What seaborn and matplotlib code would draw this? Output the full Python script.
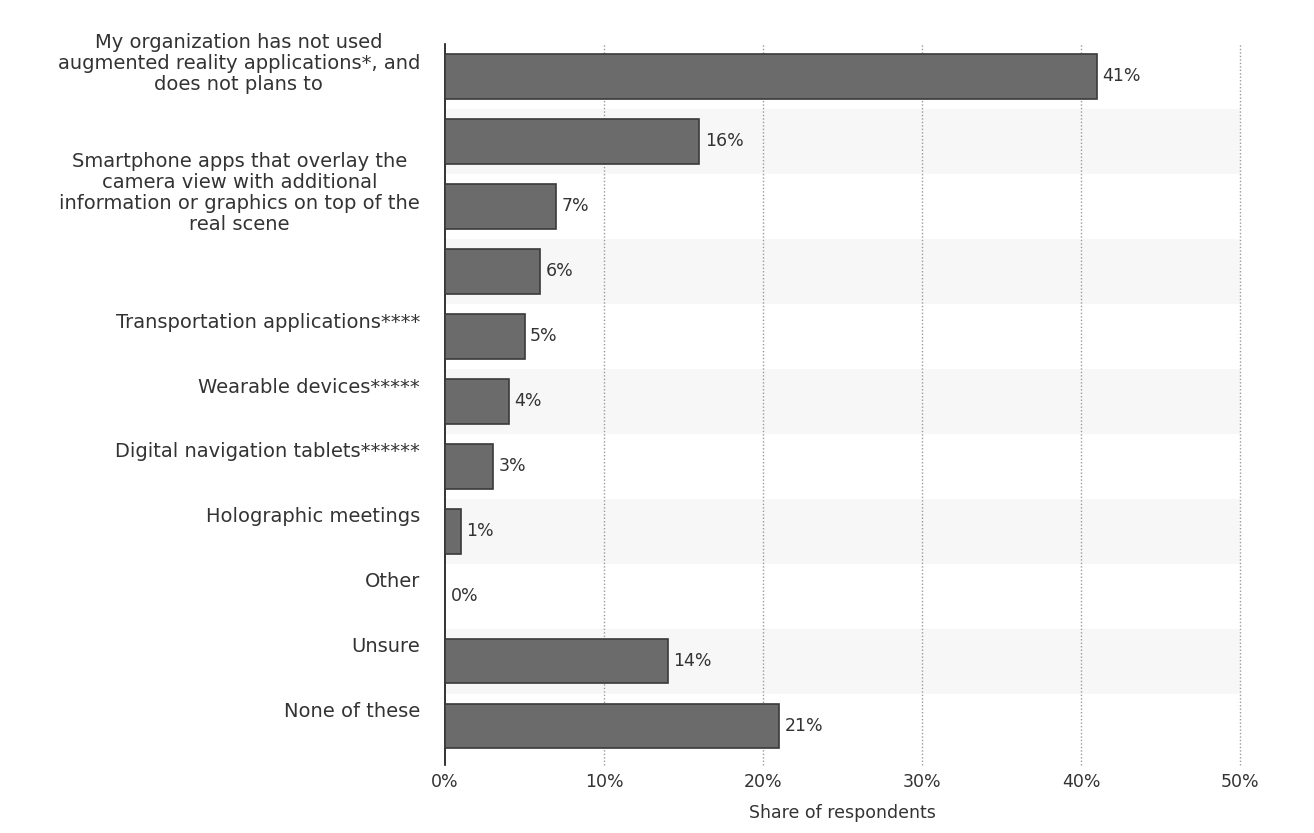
import numpy as np
import pandas as pd
import matplotlib
matplotlib.use("Agg")
import matplotlib.pyplot as plt
import seaborn as sns

# Survey answers (top to bottom); two rows carry no visible label
categories = [
    "My organization has not used\naugmented reality applications*, and\ndoes not plans to",
    "",
    "Smartphone apps that overlay the\ncamera view with additional\ninformation or graphics on top of the\nreal scene",
    "",
    "Transportation applications****",
    "Wearable devices*****",
    "Digital navigation tablets******",
    "Holographic meetings",
    "Other",
    "Unsure",
    "None of these",
]
shares = [41, 16, 7, 6, 5, 4, 3, 1, 0, 14, 21]
x_ticks = [0, 10, 20, 30, 40, 50]
x_tick_labels = ["0%", "10%", "20%", "30%", "40%", "50%"]

df = pd.DataFrame({"row": np.arange(len(shares)), "share": shares})

sns.set_theme(style="white")
plt.rcParams["font.family"] = ["DejaVu Sans"]

fig = plt.figure(figsize=(13.14, 8.33), dpi=100)
ax = fig.add_axes([445 / 1314, 1 - 765 / 833, (1240 - 445) / 1314, (765 - 44) / 833])

# faint alternating row bands
for i in range(len(shares)):
    if i % 2 == 1:
        ax.axhspan(i - 0.5, i + 0.5, color="#f7f7f7", zorder=0, lw=0)

sns.barplot(data=df, x="share", y="row", orient="h", color="#6b6b6b",
            edgecolor="#3a3a3a", linewidth=1.2, width=0.69, saturation=1,
            ax=ax, zorder=3)

ax.set_xlim(0, 50)
ax.set_ylim(len(shares) - 0.5 + 0.1, -0.5)

ax.set_xticks(x_ticks)
ax.set_xticklabels(x_tick_labels, fontsize=12.5, color="#333333")

# category labels sit slightly above each bar centre
ax.set_yticks(np.arange(len(shares)) - 0.25)
ax.set_yticklabels(categories, fontsize=14, color="#333333", ha="right",
                   multialignment="center", linespacing=1.13)
ax.tick_params(axis="y", length=0, pad=18)
ax.tick_params(axis="x", length=0, pad=6)

ax.set_xlabel("Share of respondents", fontsize=12.5, color="#333333", labelpad=9)
ax.set_ylabel("")

for v in x_ticks[1:]:
    ax.axvline(v, color="#9a9a9a", lw=1, ls=(0, (1, 1.5)), zorder=1, clip_on=False)

for s in ["top", "right", "bottom"]:
    ax.spines[s].set_visible(False)
ax.spines["left"].set_color("#111111")
ax.spines["left"].set_linewidth(1.2)

for i, v in enumerate(shares):
    ax.text(v + 0.35, i, f"{v}%", va="center", ha="left", fontsize=12.5,
            color="#333333", zorder=4)

fig.savefig("out.png", dpi=100, facecolor="white")
